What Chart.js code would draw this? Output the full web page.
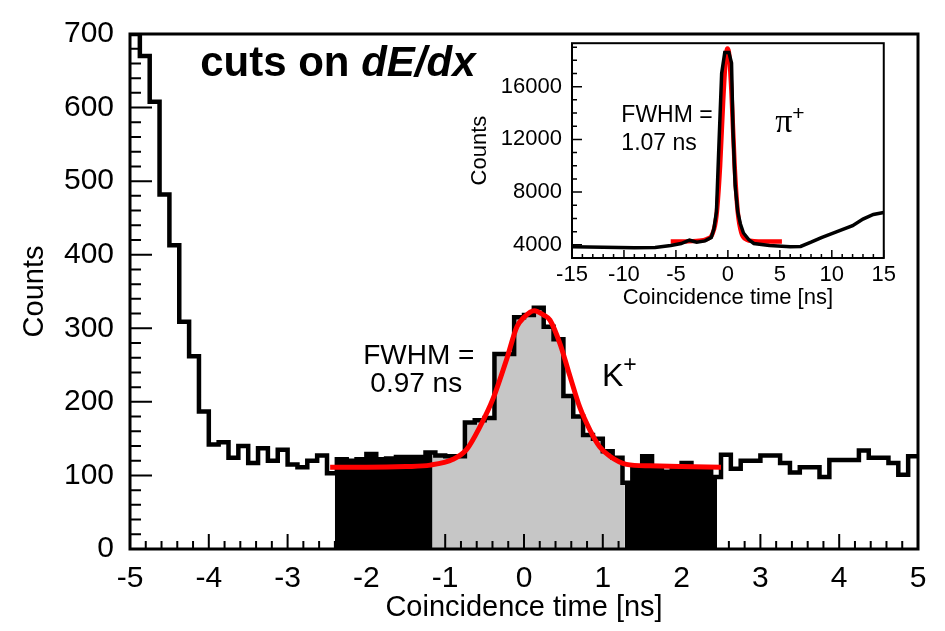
<!DOCTYPE html>
<html>
<head>
<meta charset="utf-8">
<script src="https://cdn.jsdelivr.net/npm/chart.js@4.4.1/dist/chart.umd.min.js"></script>
<style>
  html, body { margin: 0; padding: 0; background: #fff; }
  #wrap { position: relative; width: 945px; height: 631px; }
  #main { position: absolute; left: 0; top: 0; }
  #inset { position: absolute; left: 460px; top: 20px; }
</style>
</head>
<body>
<div id="wrap">
  <canvas id="main" width="945" height="631"></canvas>
  <canvas id="inset" width="440" height="300"></canvas>
</div>
<script>
// main histogram: 80 bins of 0.125 ns from -5 to 5
const binStart = -5;
const binWidth = 0.125;
const counts = [
  700, 670, 608, 482, 413, 309, 262, 187, 142, 145,
  124, 140, 117, 137, 120, 135, 115, 111, 120, 127,
  103, 122, 120, 122, 129, 122, 123, 125, 125, 125,
  131, 127, 126, 126, 172, 175, 178, 265, 265, 315,
  318, 328, 302, 285, 208, 180, 155, 150, 133, 124,
  90, 111, 126, 111, 105, 111, 117, 109, 109, 98,
  128, 109, 120, 120, 127, 127, 117, 104, 111, 111,
  98, 121, 121, 121, 134, 124, 124, 117, 101, 126
];
const xTicksMain = [-5, -4, -3, -2, -1, 0, 1, 2, 3, 4, 5];
const yTicksMain = [0, 100, 200, 300, 400, 500, 600, 700];

// shaded ranges (ns)
const sideBands = [[-2.4, -1.16], [1.28, 2.45]];
const peakBand = [-1.16, 1.28];

// red fit curve
const fitT = [-2.46, -2.0, -1.5, -1.19, -0.9, -0.73, -0.56, -0.39, -0.22, -0.09, 0.0, 0.13, 0.25, 0.33, 0.46, 0.58, 0.71, 0.84, 0.96, 1.09, 1.3, 1.6, 2.0, 2.5];
const fitV = [111, 111, 112, 114, 122, 135, 166, 205, 258, 302, 315, 324, 318, 311, 278, 236, 192, 161, 139, 126, 115, 113, 112, 111];

// inset (pi+)
const insetT = [-15, -12, -9, -7, -5.5, -4.5, -3.7, -3.0, -2.2, -1.6, -1.35, -1.1, -0.87, -0.6, -0.3, 0.1, 0.35, 0.5, 0.7, 0.95, 1.2, 1.5, 2.0, 2.5, 4, 6, 7, 8, 9, 10, 11, 12, 13, 14, 15];
const insetV = [3850, 3820, 3780, 3800, 3950, 4100, 4350, 4200, 4300, 4550, 5200, 6500, 11400, 17000, 18600, 18600, 17800, 12500, 8500, 6500, 5600, 4900, 4400, 4100, 3950, 3850, 3880, 4200, 4550, 4850, 5150, 5450, 5950, 6300, 6450];
const insetFitT = [-5.5, -4, -3, -2, -1.5, -1.1, -0.75, -0.45, -0.2, -0.05, 0.1, 0.35, 0.65, 0.95, 1.3, 1.8, 2.5, 3.5, 5.2];
const insetFitV = [4250, 4260, 4300, 4450, 4800, 6200, 10000, 15000, 18200, 18900, 18600, 15500, 10000, 6500, 4900, 4400, 4280, 4250, 4250];
const xTicksInset = [-15, -10, -5, 0, 5, 10, 15];
const yTicksInset = [4000, 8000, 12000, 16000];

const FONT = '"Liberation Sans", Arial, Helvetica, sans-serif';

function binOf(t) {
  return Math.min(counts.length - 1, Math.max(0, Math.floor((t - binStart) / binWidth + 1e-9)));
}

// histogram as stepped points at bin edges
const histPoints = counts.map((c, k) => ({ x: binStart + k * binWidth, y: c }));
histPoints.push({ x: binStart + counts.length * binWidth, y: counts[counts.length - 1] });

function clipHist(a, b) {
  const pts = [{ x: a, y: counts[binOf(a)] }];
  counts.forEach((c, k) => {
    const e = binStart + k * binWidth;
    if (e > a && e < b) pts.push({ x: e, y: c });
  });
  pts.push({ x: b, y: counts[binOf(b - 1e-6)] });
  return pts;
}

const zip = (xs, ys) => xs.map((x, i) => ({ x, y: ys[i] }));

function frameTicks(o) {
  return {
    id: 'frameTicks',
    afterDatasetsDraw(chart) {
      const { ctx, chartArea: a, scales: { x, y } } = chart;
      const steps = (s, step) => {
        const n = Math.round((s.max - s.min) / step);
        const out = [];
        for (let i = 0; i <= n; i++) out.push(s.min + i * step);
        return out;
      };
      ctx.save();
      ctx.strokeStyle = '#000';
      ctx.lineWidth = o.tickWidth;
      ctx.beginPath();
      steps(y, o.yMinor).forEach(v => {
        const p = y.getPixelForValue(v);
        ctx.moveTo(a.left, p); ctx.lineTo(a.left + o.yMinorLen, p);
      });
      y.ticks.forEach(t => {
        const p = y.getPixelForValue(t.value);
        ctx.moveTo(a.left, p); ctx.lineTo(a.left + o.yMajorLen, p);
      });
      steps(x, o.xMinor).forEach(v => {
        const p = x.getPixelForValue(v);
        ctx.moveTo(p, a.bottom); ctx.lineTo(p, a.bottom - o.xMinorLen);
      });
      x.ticks.forEach(t => {
        const p = x.getPixelForValue(t.value);
        ctx.moveTo(p, a.bottom); ctx.lineTo(p, a.bottom - o.xMajorLen);
      });
      ctx.stroke();
      ctx.lineWidth = o.frameWidth;
      ctx.strokeRect(a.left, a.top, a.right - a.left, a.bottom - a.top);
      ctx.restore();
    }
  };
}

function notes(items) {
  return {
    id: 'notes',
    afterDraw(chart) {
      const { ctx, scales: { x, y } } = chart;
      ctx.save();
      ctx.fillStyle = '#000';
      ctx.textBaseline = 'alphabetic';
      ctx.textAlign = 'left';
      items.forEach(n => {
        let px = x.getPixelForValue(n.x);
        const py = y.getPixelForValue(n.y);
        n.parts.forEach(([txt, font, dy]) => {
          ctx.font = font;
          ctx.fillText(txt, px, py + (dy || 0));
          px += ctx.measureText(txt).width;
        });
      });
      ctx.restore();
    }
  };
}

const setTicks = list => s => { s.ticks = list.map(v => ({ value: v })); };

// ---- main chart ----
const fills = sideBands.map(([a, b]) => ({
  data: clipHist(a, b), borderColor: 'rgba(0,0,0,0)', borderWidth: 0,
  backgroundColor: '#000', fill: 'origin', stepped: 'before', pointRadius: 0, order: 2
}));
fills.push({
  data: clipHist(peakBand[0], peakBand[1]), borderColor: 'rgba(0,0,0,0)', borderWidth: 0,
  backgroundColor: '#c6c6c6', fill: 'origin', stepped: 'before', pointRadius: 0, order: 2
});

new Chart(document.getElementById('main'), {
  type: 'line',
  data: {
    datasets: [
      { data: zip(fitT, fitV), borderColor: '#ff0000', borderWidth: 5, pointRadius: 0,
        cubicInterpolationMode: 'monotone', fill: false, order: 0 },
      { data: histPoints, borderColor: '#000', borderWidth: 4.5, pointRadius: 0,
        stepped: 'before', fill: false, order: 1 },
      ...fills
    ]
  },
  options: {
    responsive: false,
    animation: false,
    layout: { padding: { left: 0, top: 18, right: 27, bottom: 0 } },
    plugins: { legend: { display: false }, tooltip: { enabled: false } },
    scales: {
      x: {
        type: 'linear', min: -5, max: 5,
        afterBuildTicks: setTicks(xTicksMain),
        afterFit: s => { s.height = 82; },
        grid: { display: false, drawTicks: false },
        border: { display: false },
        ticks: { padding: 12, color: '#000', maxRotation: 0, font: { family: FONT, size: 30 } },
        title: { display: true, text: 'Coincidence time [ns]', color: '#000',
          font: { family: FONT, size: 29 }, padding: { top: 0, bottom: 6 } }
      },
      y: {
        type: 'linear', min: 0, max: 700,
        afterBuildTicks: setTicks(yTicksMain),
        afterFit: s => { s.width = 130; },
        grid: { display: false, drawTicks: false },
        border: { display: false },
        ticks: { padding: 16, color: '#000', font: { family: FONT, size: 30 } },
        title: { display: true, text: 'Counts', color: '#000',
          font: { family: FONT, size: 29 }, padding: { top: 18, bottom: 0 } }
      }
    }
  },
  plugins: [
    frameTicks({ tickWidth: 2, frameWidth: 3, yMinor: 20, yMinorLen: 11, yMajorLen: 22,
      xMinor: 0.2, xMinorLen: 8, xMajorLen: 15 }),
    notes([
      { x: -4.11, y: 643, parts: [['cuts on ', 'bold 42px ' + FONT], ['dE/dx', 'italic bold 42px ' + FONT]] },
      { x: -2.04, y: 252, parts: [['FWHM =', '28px ' + FONT]] },
      { x: -1.95, y: 214, parts: [['0.97 ns', '28px ' + FONT]] },
      { x: 0.99, y: 221, parts: [['K', '32px ' + FONT], ['+', '23px ' + FONT, -14]] }
    ])
  ]
});

// ---- inset chart ----
new Chart(document.getElementById('inset'), {
  type: 'line',
  data: {
    datasets: [
      { data: zip(insetT, insetV), borderColor: '#000', borderWidth: 3.5, pointRadius: 0, fill: false, order: 0 },
      { data: zip(insetFitT, insetFitV), borderColor: '#ff0000', borderWidth: 4.5, pointRadius: 0,
        cubicInterpolationMode: 'monotone', fill: false, order: 1 }
    ]
  },
  options: {
    responsive: false,
    animation: false,
    layout: { padding: { left: 0, top: 20, right: 14, bottom: 0 } },
    plugins: { legend: { display: false }, tooltip: { enabled: false } },
    scales: {
      x: {
        type: 'linear', min: -15, max: 15,
        afterBuildTicks: setTicks(xTicksInset),
        afterFit: s => { s.height = 62; },
        grid: { display: false, drawTicks: false },
        border: { display: false },
        ticks: { padding: 4, color: '#000', maxRotation: 0, font: { family: FONT, size: 22 } },
        title: { display: true, text: 'Coincidence time [ns]', color: '#000',
          font: { family: FONT, size: 22 }, padding: { top: 0, bottom: 9 } }
      },
      y: {
        type: 'linear', min: 3000, max: 19300,
        afterBuildTicks: setTicks(yTicksInset),
        afterFit: s => { s.width = 112; },
        grid: { display: false, drawTicks: false },
        border: { display: false },
        ticks: { padding: 10, color: '#000', font: { family: FONT, size: 22 }, callback: v => String(v) },
        title: { display: true, text: 'Counts', color: '#000',
          font: { family: FONT, size: 22 }, padding: { top: 7, bottom: 0 } }
      }
    }
  },
  plugins: [
    frameTicks({ tickWidth: 1.5, frameWidth: 2, yMinor: 1000, yMinorLen: 5, yMajorLen: 10,
      xMinor: 1, xMinorLen: 4, xMajorLen: 8 }),
    notes([
      { x: -10.25, y: 13317, parts: [['FWHM =', '23px ' + FONT]] },
      { x: -10.25, y: 11207, parts: [['1.07 ns', '23px ' + FONT]] },
      { x: 4.55, y: 12571, parts: [['\u03C0', '34px "Liberation Serif", "DejaVu Serif", serif'], ['+', '21px ' + FONT, -12]] }
    ])
  ]
});
</script>
</body>
</html>
